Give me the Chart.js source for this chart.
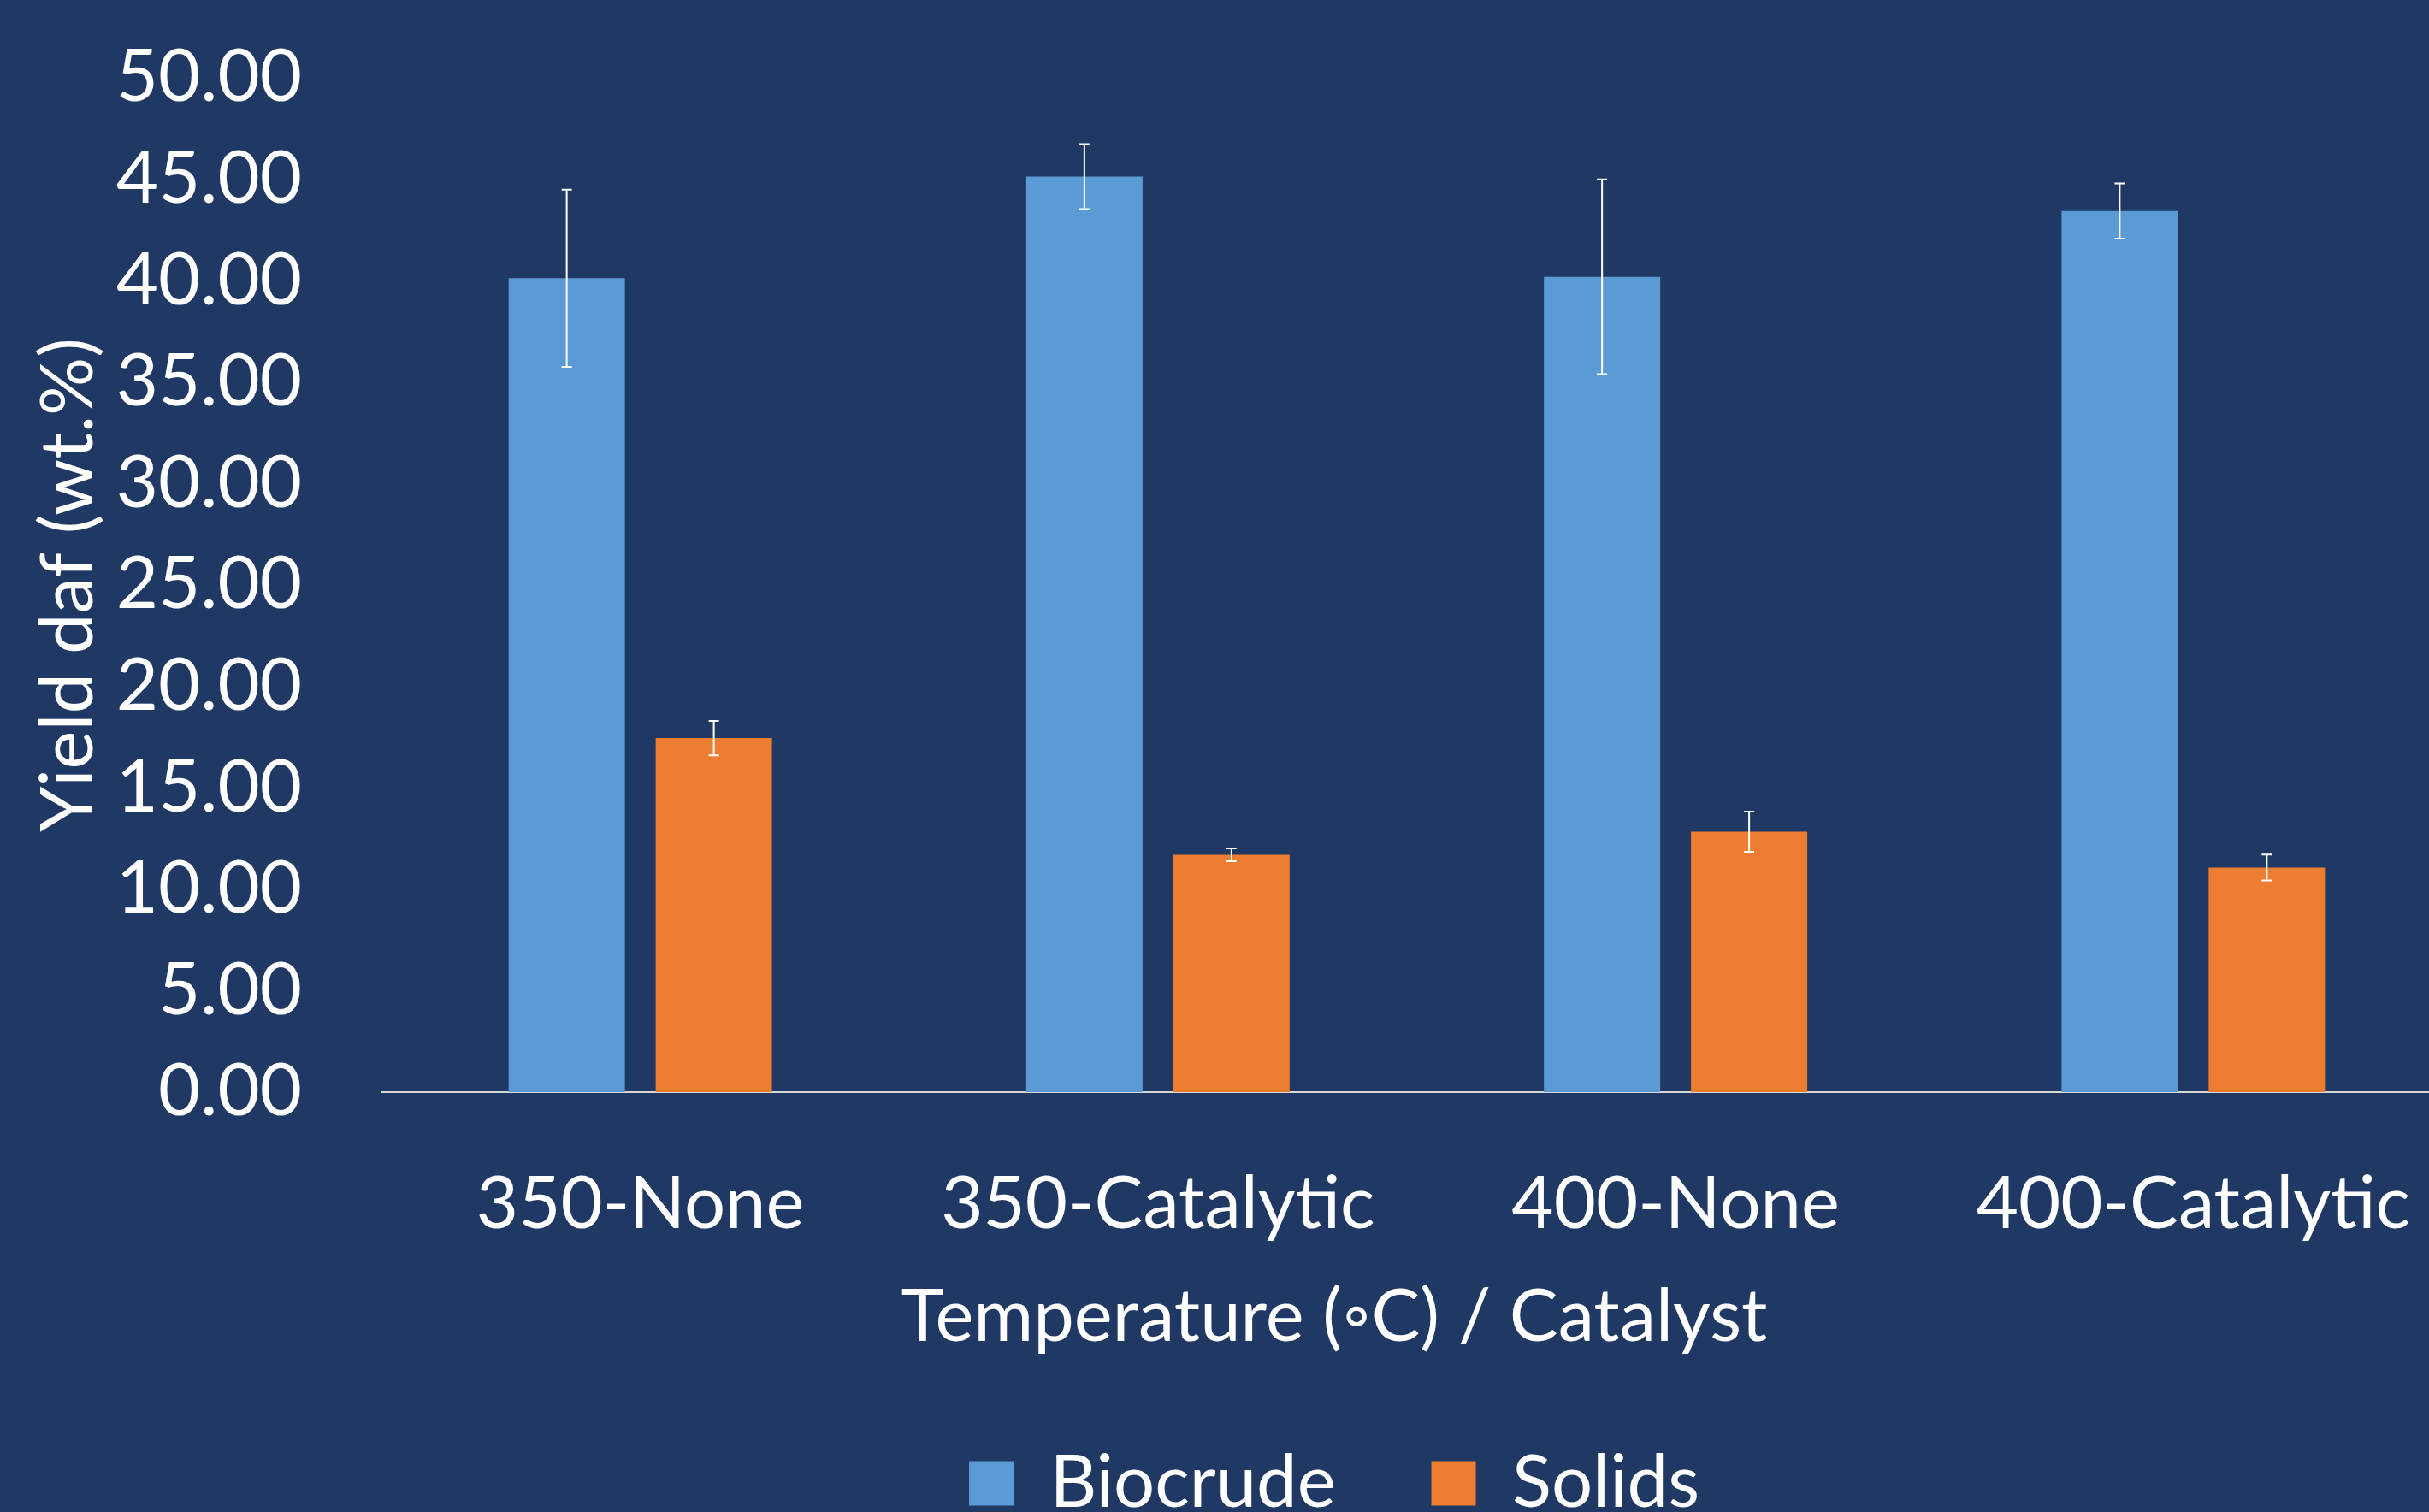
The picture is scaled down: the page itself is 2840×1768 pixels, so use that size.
<!DOCTYPE html>
<html>
<head>
<meta charset="utf-8">
<title>Yield daf</title>
<script src="https://cdn.jsdelivr.net/npm/chart.js@4.4.1/dist/chart.umd.min.js"></script>
<style>
  html, body { margin: 0; padding: 0; overflow: hidden; background: #203864; }
  #wrap { width: 3120px; height: 1787px; }
</style>
</head>
<body>
<div id="wrap"><canvas id="yieldChart"></canvas></div>
<script>
const categories = ['350-None', '350-Catalytic', '400-None', '400-Catalytic'];
const biocrude = [40.12, 45.13, 40.19, 43.43];
const biocrudeErr = [4.37, 1.60, 4.80, 1.36];
const solids = [17.45, 11.70, 12.84, 11.07];
const solidsErr = [0.85, 0.32, 0.99, 0.64];
const yTickLabels = ['0.00', '5.00', '10.00', '15.00', '20.00', '25.00', '30.00', '35.00', '40.00', '45.00', '50.00'];

const bg = '#203864';
const white = '#ffffff';
const font = { family: 'Lato', size: 85, weight: 'normal' };

// dark slide background behind the whole canvas
const background = {
    id: 'background',
    beforeDraw(chart) {
        const { ctx, width, height } = chart;
        ctx.save();
        ctx.fillStyle = bg;
        ctx.fillRect(0, 0, width, height);
        ctx.restore();
    },
};

// +/- error bars with small caps, drawn on top of the bars
const errorBars = {
    id: 'errorBars',
    afterDatasetsDraw(chart) {
        const { ctx } = chart;
        const y = chart.scales.y;
        ctx.save();
        ctx.strokeStyle = white;
        ctx.lineWidth = 2;
        chart.data.datasets.forEach((ds, i) => {
            const meta = chart.getDatasetMeta(i);
            meta.data.forEach((bar, j) => {
                const top = y.getPixelForValue(ds.data[j] + ds.errors[j]);
                const bottom = y.getPixelForValue(ds.data[j] - ds.errors[j]);
                ctx.beginPath();
                ctx.moveTo(bar.x, top);
                ctx.lineTo(bar.x, bottom);
                ctx.moveTo(bar.x - 6, top);
                ctx.lineTo(bar.x + 6, top);
                ctx.moveTo(bar.x - 6, bottom);
                ctx.lineTo(bar.x + 6, bottom);
                ctx.stroke();
            });
        });
        ctx.restore();
    },
};

new Chart(document.getElementById('yieldChart'), {
    type: 'bar',
    data: {
        labels: categories,
        datasets: [
            {
                label: 'Biocrude',
                data: biocrude,
                errors: biocrudeErr,
                backgroundColor: '#5B9BD5',
                borderWidth: 0,
                categoryPercentage: 0.5683,
                barPercentage: 0.7907,
            },
            {
                label: 'Solids',
                data: solids,
                errors: solidsErr,
                backgroundColor: '#ED7D31',
                borderWidth: 0,
                categoryPercentage: 0.5683,
                barPercentage: 0.7907,
            },
        ],
    },
    options: {
        responsive: true,
        maintainAspectRatio: false,
        animation: false,
        devicePixelRatio: 1,
        layout: { padding: { top: 91, left: 0, right: 0, bottom: 0 } },
        plugins: {
            legend: {
                position: 'bottom',
                labels: { color: white, font, boxWidth: 52, boxHeight: 52, padding: 112 },
            },
            title: {
                display: true,
                position: 'bottom',
                weight: 500,
                text: 'Temperature (◦C) / Catalyst',
                color: white,
                font,
                padding: { top: 0, bottom: -12 },
            },
            tooltip: { enabled: false },
        },
        scales: {
            x: {
                grid: { display: false, drawTicks: false },
                border: { display: true, color: '#d9d9d9', width: 2 },
                ticks: { color: white, font, padding: 81, maxRotation: 0, autoSkip: false },
                afterFit: (s) => { s.height = 213; },
            },
            y: {
                min: 0,
                max: 50,
                grid: { display: false, drawTicks: false },
                border: { display: false },
                ticks: {
                    stepSize: 5,
                    color: white,
                    font,
                    padding: 93,
                    callback: (v, i) => yTickLabels[i],
                },
                title: {
                    display: true,
                    text: 'Yield daf (wt.%)',
                    color: white,
                    font,
                    padding: { top: 30, bottom: 0 },
                },
                afterFit: (s) => {
                    s.width = 446;
                    // only half a label overhangs the plot, not the tick padding
                    s.paddingTop = 51;
                    s.paddingBottom = 51;
                },
            },
            // empty right-hand box: the plot runs past the cropped right edge
            y2: {
                position: 'right',
                grid: { display: false, drawTicks: false },
                border: { display: false },
                ticks: { display: false },
                afterFit: (s) => { s.width = 253; },
            },
        },
    },
    plugins: [background, errorBars],
});
</script>
</body>
</html>
